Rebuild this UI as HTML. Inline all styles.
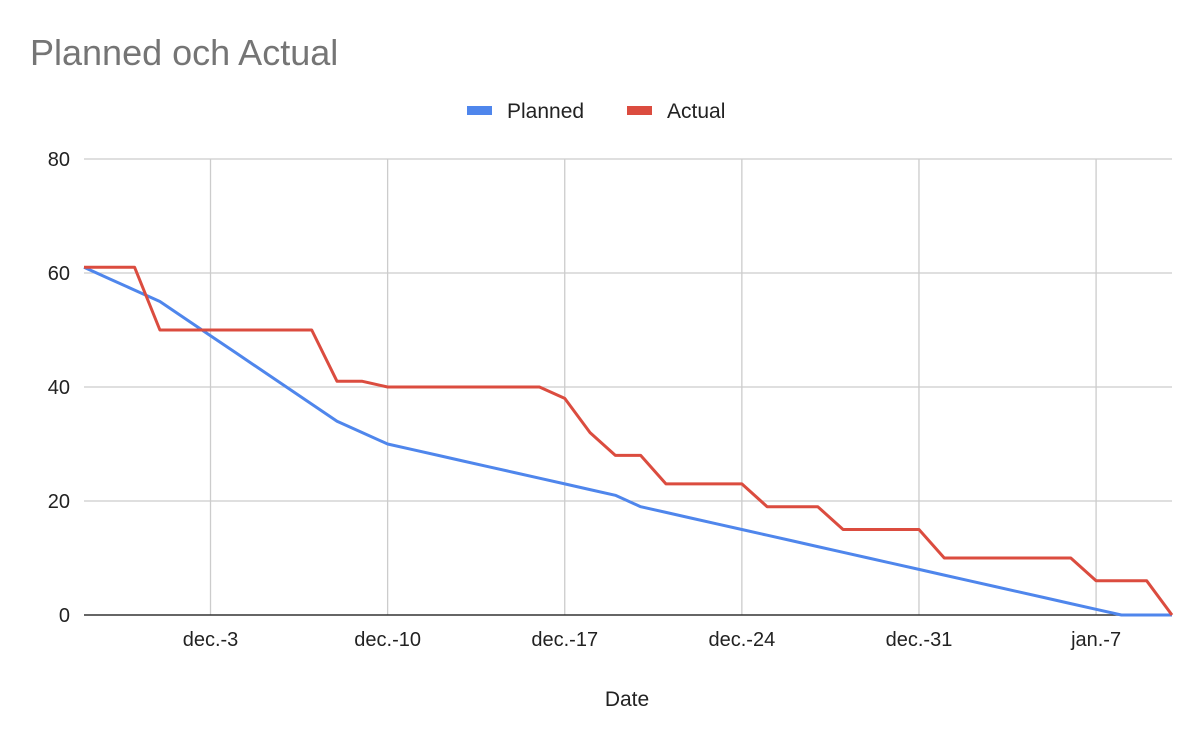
<!DOCTYPE html>
<html><head><meta charset="utf-8">
<style>
html,body{margin:0;padding:0;background:#fff;}
svg{display:block;font-family:"Liberation Sans",Arial,sans-serif;}
</style></head>
<body>
<svg id="chart" width="1204" height="739" viewBox="0 0 1204 739">
<text x="30" y="65" font-size="36" fill="#757575">Planned och Actual</text>
<g>
<g><rect x="467" y="106" width="25" height="9" fill="#4f86ec"/><text x="507" y="118" font-size="21" fill="#222">Planned</text></g>
<g><rect x="627" y="106" width="25" height="9" fill="#db4c3f"/><text x="667" y="118" font-size="21" fill="#222">Actual</text></g>
</g>
<g id="grid"></g>
<g id="axes"></g>
<g id="series"></g>
<text x="627" y="706" font-size="21" text-anchor="middle" fill="#222">Date</text>
</svg>
<script>
const planned=[61,59,57,55,52,49,46,43,40,37,34,32,30,29,28,27,26,25,24,23,22,21,19,18,17,16,15,14,13,12,11,10,9,8,7,6,5,4,3,2,1,0,0,0];
const actual=[61,61,61,50,50,50,50,50,50,50,41,41,40,40,40,40,40,40,40,38,32,28,28,23,23,23,23,19,19,19,15,15,15,15,10,10,10,10,10,10,6,6,6,0];
const yTicks=[0,20,40,60,80];
const xTickIdx=[5,12,19,26,33,40];
const xTickLabels=["dec.-3","dec.-10","dec.-17","dec.-24","dec.-31","jan.-7"];
const x0=84,x1=1172,yb=615,yt=159,ymax=80,n=43;
const X=i=>x0+(x1-x0)*i/n;
const Y=v=>yb-(yb-yt)*v/ymax;
const NS="http://www.w3.org/2000/svg";
function mk(tag,attrs,parent){const e=document.createElementNS(NS,tag);for(const k in attrs)e.setAttribute(k,attrs[k]);parent.appendChild(e);return e;}
const grid=document.getElementById('grid'),axes=document.getElementById('axes'),series=document.getElementById('series');
yTicks.forEach(v=>{
  if(v>0){const l=mk('line',{x1:x0,x2:x1,y1:Y(v),y2:Y(v),stroke:'#cccccc','stroke-width':1.3},grid);
  
  }
  const t=mk('text',{x:70,y:Y(v)+7,'font-size':20,'text-anchor':'end',fill:'#222'},axes);t.textContent=v;
  
  
});
xTickIdx.forEach((i,k)=>{
  const l=mk('line',{x1:X(i),x2:X(i),y1:yt,y2:yb,stroke:'#cccccc','stroke-width':1.3},grid);
  
  
  const t=mk('text',{x:X(i),y:646,'font-size':20,'text-anchor':'middle',fill:'#222'},axes);t.textContent=xTickLabels[k];
  
  
});
const base=mk('line',{x1:x0,x2:x1,y1:yb,y2:yb,stroke:'#333','stroke-width':1.5},axes);


function line(arr,color,name){
  const p=mk('polyline',{points:arr.map((v,i)=>X(i)+','+Y(v)).join(' '),fill:'none',stroke:color,'stroke-width':3,'stroke-linejoin':'round'},series);
  
  
}
line(planned,'#4f86ec','planned-line');
line(actual,'#db4c3f','actual-line');
</script>
</body></html>
